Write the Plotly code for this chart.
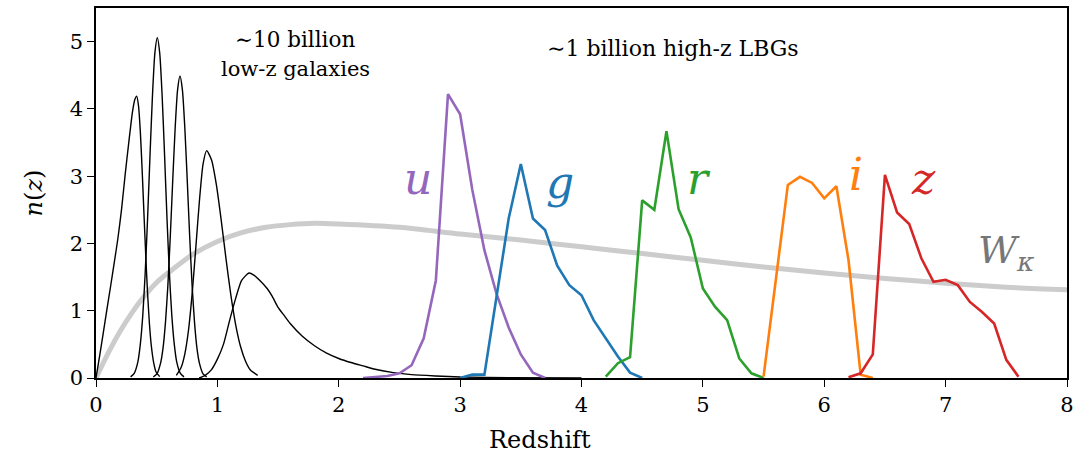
import plotly.graph_objects as go

# ---- data ----
wk_z = [0, 0.1, 0.2, 0.3, 0.4, 0.5, 0.6, 0.8, 1.0, 1.2, 1.4, 1.6, 1.8, 2.0, 2.5, 3.0,
        3.5, 4.0, 4.5, 5.0, 5.5, 6.0, 6.5, 7.0, 7.5, 8.0]
wk_n = [0, 0.37, 0.70, 0.98, 1.22, 1.42, 1.57, 1.84, 2.03, 2.16, 2.24, 2.28, 2.30, 2.29,
        2.24, 2.14, 2.05, 1.95, 1.85, 1.75, 1.65, 1.56, 1.48, 1.41, 1.35, 1.31]

lowz_1_z = [0, 0.03, 0.06, 0.09, 0.12, 0.15, 0.18, 0.21, 0.24, 0.27, 0.30, 0.32, 0.335,
            0.35, 0.365, 0.38, 0.395, 0.41, 0.425, 0.44, 0.455, 0.475, 0.495, 0.525]
lowz_1_n = [0, 0.33, 0.67, 1.02, 1.36, 1.71, 2.07, 2.5, 3.02, 3.5, 3.95, 4.14, 4.19,
            4.05, 3.67, 3.10, 2.45, 1.82, 1.26, 0.81, 0.49, 0.23, 0.09, 0.02]
lowz_2_z = [0.285, 0.315, 0.345, 0.365, 0.385, 0.405, 0.425, 0.445, 0.465, 0.485, 0.505,
            0.525, 0.545, 0.565, 0.585, 0.605, 0.625, 0.645, 0.665, 0.695, 0.725]
lowz_2_n = [0.017, 0.07, 0.24, 0.50, 0.92, 1.55, 2.37, 3.31, 4.19, 4.83, 5.06,
            4.83, 4.19, 3.31, 2.37, 1.55, 0.92, 0.50, 0.24, 0.07, 0.017]
lowz_3_z = [0.472, 0.502, 0.532, 0.552, 0.572, 0.592, 0.612, 0.632, 0.652, 0.672, 0.692,
            0.712, 0.732, 0.752, 0.772, 0.792, 0.812, 0.832, 0.852, 0.882, 0.912]
lowz_3_n = [0.015, 0.06, 0.22, 0.44, 0.82, 1.37, 2.10, 2.93, 3.71, 4.28, 4.49,
            4.28, 3.71, 2.93, 2.10, 1.37, 0.82, 0.44, 0.22, 0.06, 0.015]
lowz_4_z = [0.662, 0.702, 0.732, 0.762, 0.792, 0.822, 0.852, 0.882, 0.912, 0.952, 0.992,
            1.032, 1.072, 1.112, 1.152, 1.192, 1.232, 1.272, 1.332]
lowz_4_n = [0.04, 0.16, 0.36, 0.71, 1.25, 1.93, 2.63, 3.18, 3.38, 3.24, 2.87,
            2.34, 1.76, 1.22, 0.78, 0.46, 0.25, 0.12, 0.04]
lowz_5_z = [0.85, 0.9, 0.95, 1.0, 1.05, 1.1, 1.15, 1.2, 1.26, 1.3, 1.35, 1.41, 1.45, 1.5,
            1.55, 1.6, 1.7, 1.8, 1.9, 2.0, 2.1, 2.2, 2.3, 2.45, 2.6, 2.8, 3.0, 3.4, 4.0]
lowz_5_n = [0, 0.04, 0.12, 0.28, 0.5, 0.85, 1.18, 1.45, 1.56, 1.53, 1.45, 1.33, 1.22, 1.05,
            0.93, 0.81, 0.62, 0.48, 0.37, 0.29, 0.23, 0.18, 0.13, 0.08, 0.05, 0.03, 0.015, 0.005, 0]

u_z = [2.2, 2.3, 2.4, 2.5, 2.6, 2.7, 2.8, 2.9, 3.0, 3.1, 3.2, 3.3, 3.4, 3.5, 3.6, 3.7]
u_n = [0, 0.01, 0.03, 0.07, 0.19, 0.59, 1.45, 4.22, 3.92, 2.8, 1.9, 1.25, 0.75, 0.35, 0.08, 0]
g_z = [3.0, 3.1, 3.2, 3.3, 3.4, 3.5, 3.6, 3.7, 3.8, 3.9, 4.0, 4.1, 4.2, 4.3, 4.4, 4.5]
g_n = [0, 0.05, 0.05, 1.2, 2.37, 3.18, 2.37, 2.2, 1.67, 1.38, 1.23, 0.86, 0.59, 0.32, 0.08, 0]
r_z = [4.2, 4.3, 4.4, 4.5, 4.6, 4.7, 4.8, 4.9, 5.0, 5.1, 5.2, 5.3, 5.4, 5.5]
r_n = [0.02, 0.22, 0.31, 2.64, 2.50, 3.67, 2.51, 2.09, 1.33, 1.06, 0.86, 0.29, 0.07, 0]
i_z = [5.5, 5.6, 5.7, 5.8, 5.9, 6.0, 6.1, 6.2, 6.3, 6.4]
i_n = [0.02, 1.45, 2.87, 2.99, 2.90, 2.67, 2.85, 1.75, 0.05, 0]
zb_z = [6.2, 6.3, 6.4, 6.5, 6.6, 6.7, 6.8, 6.9, 7.0, 7.1, 7.2, 7.3, 7.4, 7.5, 7.6]
zb_n = [0.01, 0.07, 0.35, 3.02, 2.46, 2.29, 1.78, 1.43, 1.46, 1.38, 1.13, 0.98, 0.81, 0.27, 0.02]

x_ticks = [0, 1, 2, 3, 4, 5, 6, 7, 8]
y_ticks = [0, 1, 2, 3, 4, 5]

FONT = "DejaVu Serif"
C_U, C_G, C_R, C_I, C_Z = "#9467bd", "#1f77b4", "#2ca02c", "#ff7f0e", "#d62728"

fig = go.Figure()
fig.add_trace(go.Scatter(x=wk_z, y=wk_n, mode="lines",
                         line=dict(color="#cccccc", width=5, shape="spline", smoothing=0.8),
                         hoverinfo="skip"))
for zz, nn in [(lowz_1_z, lowz_1_n), (lowz_2_z, lowz_2_n), (lowz_3_z, lowz_3_n),
               (lowz_4_z, lowz_4_n), (lowz_5_z, lowz_5_n)]:
    fig.add_trace(go.Scatter(x=zz, y=nn, mode="lines",
                             line=dict(color="black", width=1.4, shape="spline", smoothing=0.6)))
for zz, nn, c in [(u_z, u_n, C_U), (g_z, g_n, C_G), (r_z, r_n, C_R), (i_z, i_n, C_I), (zb_z, zb_n, C_Z)]:
    fig.add_trace(go.Scatter(x=zz, y=nn, mode="lines", line=dict(color=c, width=2.6)))

def label(x, y, text, color, size):
    fig.add_annotation(x=x, y=y, xref="x", yref="y", text=text, showarrow=False,
                       font=dict(family=FONT, size=size, color=color), xanchor="center")

label(1.64, 5.03, "∼10 billion", "black", 21.5)
label(1.64, 4.6, "low-z galaxies", "black", 21)
label(4.75, 4.9, "∼1 billion high-z LBGs", "black", 22)
label(2.65, 2.97, "<i>u</i>", C_U, 44)
label(3.82, 2.9, "<i>g</i>", C_G, 44)
label(4.97, 2.97, "<i>r</i>", C_R, 44)
label(6.26, 3.03, "<i>i</i>", C_I, 44)
label(6.82, 2.96, "<i>z</i>", C_Z, 44)
label(7.5, 1.87, "<i>W</i><sub><i>κ</i></sub>", "#777777", 38)

# x-axis title, centred on the figure as in the reference
fig.add_annotation(x=(540 - 96) / 971, y=-0.167, xref="paper", yref="paper", text="Redshift",
                   showarrow=False, xanchor="center", yanchor="middle",
                   font=dict(family=FONT, size=24, color="black"))

axis_common = dict(showline=True, linecolor="black", linewidth=1.6, mirror=True,
                   ticks="outside", ticklen=7, tickwidth=1.4, tickcolor="black",
                   showgrid=False, zeroline=False,
                   tickfont=dict(family=FONT, size=21, color="black"))
fig.update_xaxes(range=[0, 8], tickvals=x_ticks, ticktext=[str(t) for t in x_ticks], **axis_common)
fig.update_yaxes(range=[0, 5.5], tickvals=y_ticks, ticktext=[str(t) for t in y_ticks],
                 title=dict(text="<i>n</i>(<i>z</i>)", font=dict(family=FONT, size=24, color="black"), standoff=20),
                 **axis_common)
fig.update_layout(width=1082, height=463, margin=dict(l=96, r=15, t=6, b=85),
                  font=dict(family=FONT),
                  plot_bgcolor="white", paper_bgcolor="white", showlegend=False)
fig.write_html("out.html")
